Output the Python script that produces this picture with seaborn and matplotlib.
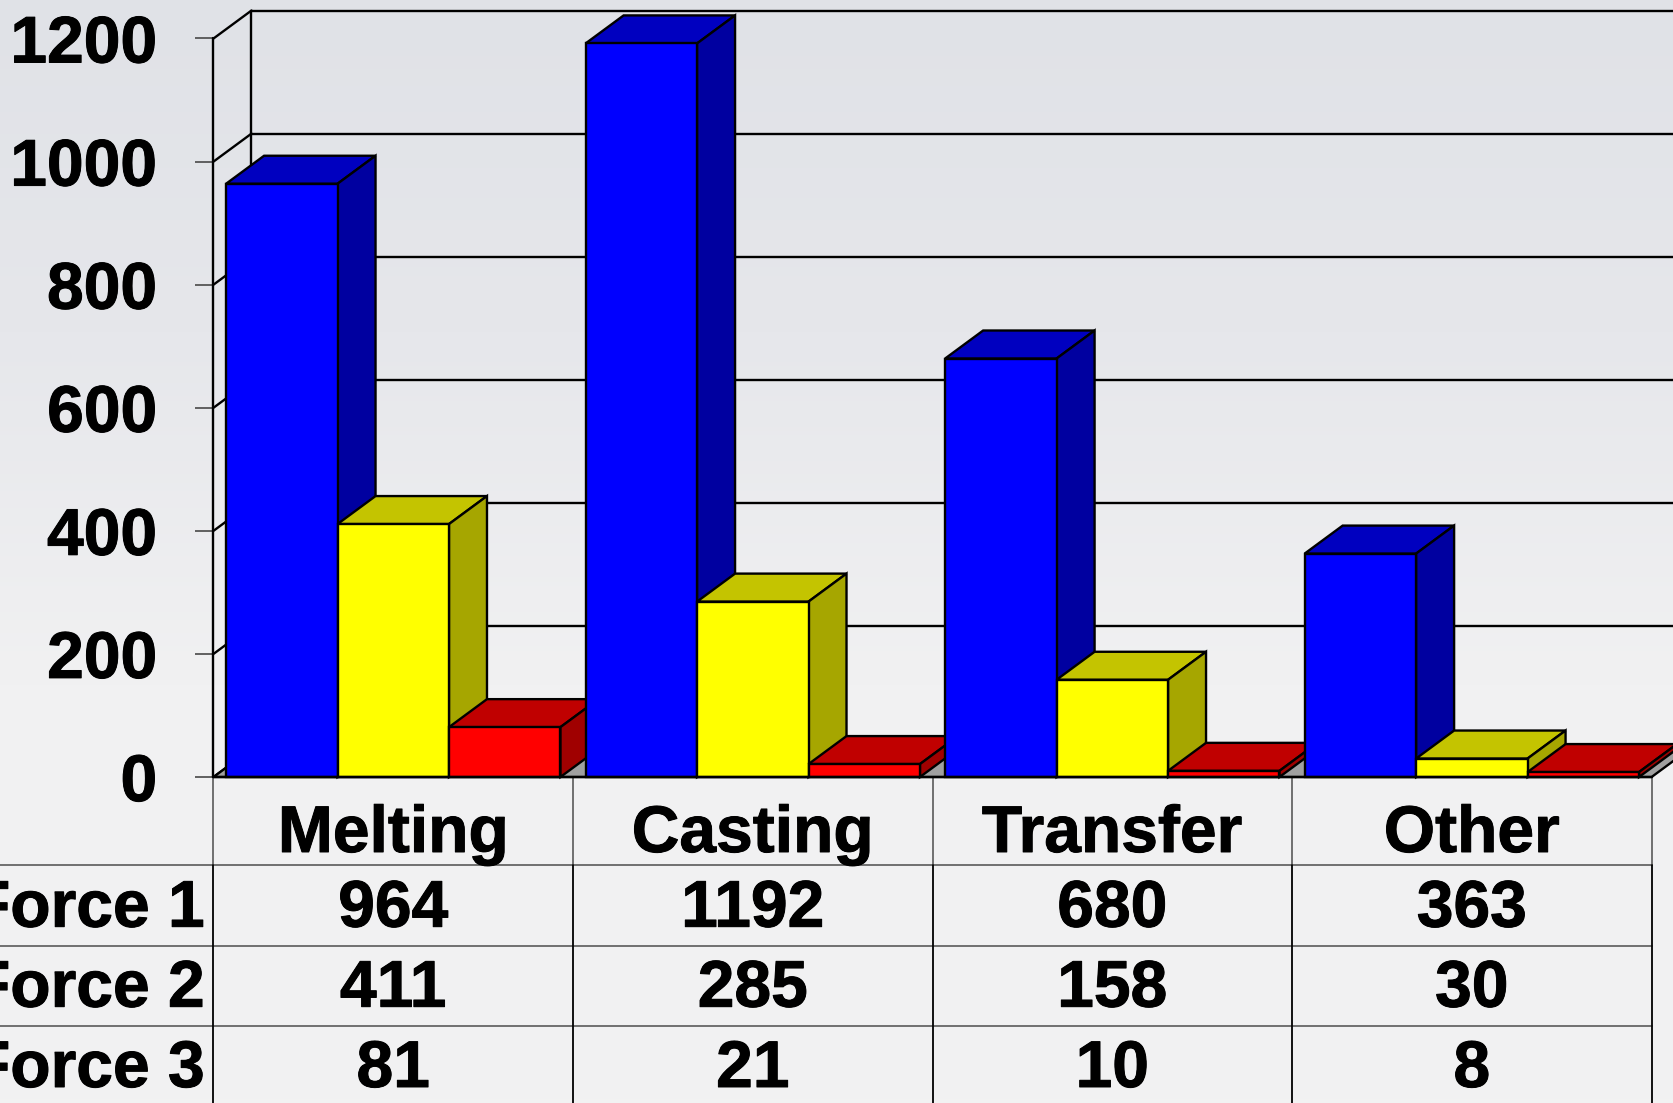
import matplotlib
matplotlib.use("Agg")
import matplotlib.pyplot as plt
import matplotlib.patheffects as pe
from matplotlib.colors import LinearSegmentedColormap
from matplotlib.patches import Polygon
from matplotlib.transforms import blended_transform_factory
import numpy as np
import pandas as pd
import seaborn as sns

categories = ["Melting", "Casting", "Transfer", "Other"]
series_names = ["Force 1", "Force 2", "Force 3"]
force_1 = [964, 1192, 680, 363]
force_2 = [411, 285, 158, 30]
force_3 = [81, 21, 10, 8]
y_ticks = [0, 200, 400, 600, 800, 1000, 1200]

front_colors = ["#0000ff", "#ffff00", "#ff0000"]
top_colors = ["#0000c0", "#c4c400", "#c00000"]
side_colors = ["#0000a0", "#a6a600", "#a00000"]

W, H = 1674, 1103
base_px, top_px = 777.0, 38.5
left_px, right_px = 213.5, 1651.6
edge = 1.7
fsize = 47.5
fat = [pe.withStroke(linewidth=0.7, foreground="black")]

sns.set_theme(style="white")
plt.rcParams["font.family"] = ["Liberation Sans", "DejaVu Sans"]
plt.rcParams["font.weight"] = "bold"

fig = plt.figure(figsize=(W / 100, H / 100), dpi=100)

# background gradient
bg = fig.add_axes([0, 0, 1, 1], zorder=0)
cmap = LinearSegmentedColormap.from_list(
    "bg", [(0, "#e0e2e7"), (0.3, "#e6e7eb"), (0.62, "#f1f1f2"), (1, "#f2f2f2")])
bg.imshow(np.linspace(0, 1, 256).reshape(-1, 1), cmap=cmap, aspect="auto", vmin=0, vmax=1)
bg.axis("off")

# table grid + text live on a pixel axes
tbl = fig.add_axes([0, 0, 1, 1], zorder=1)
tbl.set_xlim(0, W)
tbl.set_ylim(H, 0)
tbl.axis("off")

ax = fig.add_axes([left_px / W, 1 - base_px / H, (right_px - left_px) / W,
                   (base_px - top_px) / H], zorder=2)
ax.patch.set_alpha(0)

df = pd.DataFrame({
    "process": categories * 3,
    "series": [s for s in series_names for _ in categories],
    "force": force_1 + force_2 + force_3,
})
sns.barplot(data=df, x="process", y="force", hue="series", order=categories,
            hue_order=series_names, palette=front_colors, width=0.93, gap=0,
            saturation=1, edgecolor="black", linewidth=edge, legend=False, ax=ax)

ax.set_xlim(-0.5, 3.5)
ax.set_ylim(0, 1200)
for s in ax.spines.values():
    s.set_visible(False)
ax.set_xlabel("")
ax.set_ylabel("")
ax.set_xticks([])
ax.set_yticks(y_ticks)
ax.tick_params(axis="y", left=True, length=13, width=1.3, color="#555555", pad=27.5, labelsize=fsize)
for lab in ax.get_yticklabels():
    lab.set_fontweight("bold")
    lab.set_color("black")
    lab.set_path_effects(fat)

# depth of the fake 3d, in data units
dx = 38 / ((right_px - left_px) / 4)
dy = 28 / ((base_px - top_px) / 1200)
x0, x1 = -0.5, 3.5

# floor
ax.add_patch(Polygon([(x0, 0), (x1, 0), (x1 + dx, dy), (x0 + dx, dy)], closed=True,
                     facecolor="#a0a0a0", edgecolor="black", linewidth=edge,
                     zorder=1.5, clip_on=False))

# walls and grid
ax.plot([x0, x0], [0, 1200], color="black", lw=edge, zorder=1, clip_on=False)
ax.plot([x0 + dx, x0 + dx], [dy, 1200 + dy], color="black", lw=edge, zorder=1, clip_on=False)
for v in y_ticks:
    ax.plot([x0, x0 + dx], [v, v + dy], color="black", lw=edge, zorder=1, clip_on=False)
    if v > 0:
        ax.plot([x0 + dx, x1 + 0.2], [v + dy, v + dy], color="black", lw=edge, zorder=1, clip_on=False)

# bars left to right, each with its top and side, later ones cover earlier ones
bars = []
for k, cont in enumerate(ax.containers):
    for b in cont:
        bars.append((b.get_x(), k, b))
bars.sort(key=lambda t: t[0])
z = 3
for _, k, b in bars:
    xa, xb, h = b.get_x(), b.get_x() + b.get_width(), b.get_height()
    ax.add_patch(Polygon([(xa, h), (xb, h), (xb + dx, h + dy), (xa + dx, h + dy)], closed=True,
                         facecolor=top_colors[k], edgecolor="black", linewidth=edge,
                         zorder=z, clip_on=False))
    ax.add_patch(Polygon([(xb, 0), (xb + dx, dy), (xb + dx, h + dy), (xb, h)], closed=True,
                         facecolor=side_colors[k], edgecolor="black", linewidth=edge,
                         zorder=z, clip_on=False))
    b.set_zorder(z + 0.5)
    b.set_clip_on(False)
    z += 1

ax.plot([x0, x1], [0, 0], color="black", lw=edge, zorder=z, clip_on=False)

# data table under the chart
row_lines = [865, 946, 1026]
for y in row_lines:
    tbl.plot([0, right_px], [y, y], color="#666666", lw=1.3)
cell_x = blended_transform_factory(ax.transData, tbl.transData)
for i in range(5):
    tbl.plot([i - 0.5, i - 0.5], [base_px, row_lines[0]], color="#666666", lw=1.3, transform=cell_x)
    tbl.plot([i - 0.5, i - 0.5], [row_lines[0], H], color="black", lw=1.3, transform=cell_x)

rows = [force_1, force_2, force_3]
row_y = [926.7, 1006.7, 1087]
for i, name in enumerate(categories):
    tbl.text(i, 852, name, ha="center", va="baseline", fontsize=fsize, fontweight="bold",
             color="black", transform=cell_x, path_effects=fat)
for vals, name, y in zip(rows, series_names, row_y):
    tbl.text(-30, y, name, ha="left", va="baseline", fontsize=fsize, fontweight="bold",
             color="black", path_effects=fat)
    for i, v in enumerate(vals):
        tbl.text(i, y, str(v), ha="center", va="baseline", fontsize=fsize, fontweight="bold",
                 color="black", transform=cell_x, path_effects=fat)

fig.savefig("out.png", dpi=100)
